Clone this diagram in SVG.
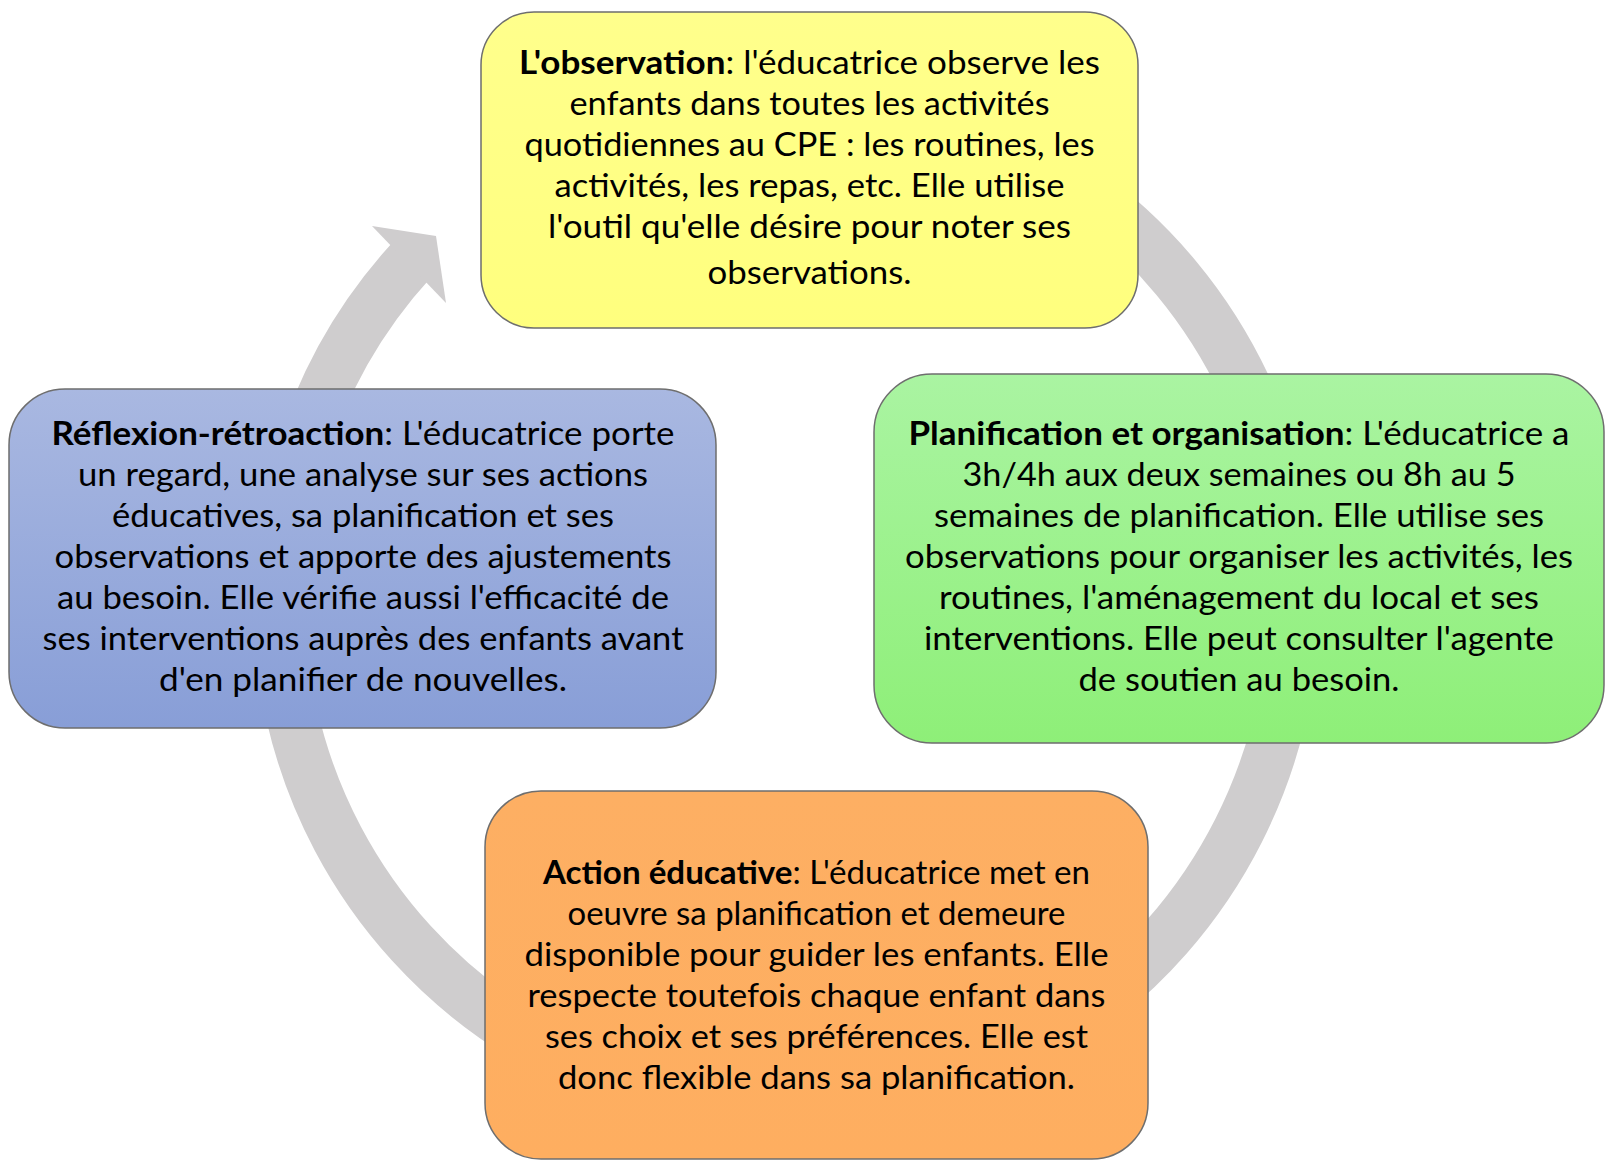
<svg xmlns="http://www.w3.org/2000/svg" width="1606" height="1160" viewBox="0 0 1606 1160">
<defs>
<linearGradient id="gY" x1="0" y1="0" x2="0" y2="1"><stop offset="0" stop-color="#FFFF8C"/><stop offset="1" stop-color="#FFFF7E"/></linearGradient>
<linearGradient id="gG" x1="0" y1="0" x2="0" y2="1"><stop offset="0" stop-color="#AAF4A2"/><stop offset="1" stop-color="#8EEF78"/></linearGradient>
<linearGradient id="gB" x1="0" y1="0" x2="0" y2="1"><stop offset="0" stop-color="#A9B8E1"/><stop offset="1" stop-color="#889ED7"/></linearGradient>
<linearGradient id="gO" x1="0" y1="0" x2="0" y2="1"><stop offset="0" stop-color="#FDAF63"/><stop offset="1" stop-color="#FEAE60"/></linearGradient>
<style>
.box{stroke:#6e6e6e;stroke-width:1.5}
.t{font-family:Lato,"Liberation Sans",sans-serif;font-size:33px;fill:#000;text-anchor:middle}
.b{font-weight:bold}
.ring{fill:none;stroke:#CFCDCE;stroke-width:52}
</style>
</defs>
<g id="connectors">
<path class="ring" d="M612.4,125.5 A507,507 0 1 1 412.4,259.2"/>
<polygon points="372,226 436,236 446,303" fill="#CFCDCE"/>
</g>
<g id="node-observation">
<rect class="box" x="481" y="12" width="657" height="316" rx="53" fill="url(#gY)"/>
<text class="t" x="809.5" y="74" textLength="581" lengthAdjust="spacingAndGlyphs"><tspan class="b">L'observation</tspan>: l'éducatrice observe les</text>
<text class="t" x="809.5" y="115" textLength="480" lengthAdjust="spacingAndGlyphs">enfants dans toutes les activités</text>
<text class="t" x="809.5" y="156" textLength="570" lengthAdjust="spacingAndGlyphs">quotidiennes au CPE : les routines, les</text>
<text class="t" x="809.5" y="197" textLength="510" lengthAdjust="spacingAndGlyphs">activités, les repas, etc. Elle utilise</text>
<text class="t" x="809.5" y="238" textLength="523" lengthAdjust="spacingAndGlyphs">l'outil qu'elle désire pour noter ses</text>
<text class="t" x="809.5" y="284" textLength="204" lengthAdjust="spacingAndGlyphs">observations.</text>
</g>
<g id="node-planification">
<rect class="box" x="874" y="374" width="730" height="369" rx="58" fill="url(#gG)"/>
<text class="t" x="1239" y="445" textLength="661" lengthAdjust="spacingAndGlyphs"><tspan class="b">Planification et organisation</tspan>: L'éducatrice a</text>
<text class="t" x="1239" y="486" textLength="553" lengthAdjust="spacingAndGlyphs">3h/4h aux deux semaines ou 8h au 5</text>
<text class="t" x="1239" y="527" textLength="610" lengthAdjust="spacingAndGlyphs">semaines de planification. Elle utilise ses</text>
<text class="t" x="1239" y="568" textLength="668" lengthAdjust="spacingAndGlyphs">observations pour organiser les activités, les</text>
<text class="t" x="1239" y="609" textLength="600" lengthAdjust="spacingAndGlyphs">routines, l'aménagement du local et ses</text>
<text class="t" x="1239" y="650" textLength="630" lengthAdjust="spacingAndGlyphs">interventions. Elle peut consulter l'agente</text>
<text class="t" x="1239" y="691" textLength="321" lengthAdjust="spacingAndGlyphs">de soutien au besoin.</text>
</g>
<g id="node-reflexion">
<rect class="box" x="9" y="389" width="707" height="339" rx="56" fill="url(#gB)"/>
<text class="t" x="363" y="445" textLength="623" lengthAdjust="spacingAndGlyphs"><tspan class="b">Réflexion-rétroaction</tspan>: L'éducatrice porte</text>
<text class="t" x="363" y="486" textLength="570" lengthAdjust="spacingAndGlyphs">un regard, une analyse sur ses actions</text>
<text class="t" x="363" y="527" textLength="502" lengthAdjust="spacingAndGlyphs">éducatives, sa planification et ses</text>
<text class="t" x="363" y="568" textLength="617" lengthAdjust="spacingAndGlyphs">observations et apporte des ajustements</text>
<text class="t" x="363" y="609" textLength="612" lengthAdjust="spacingAndGlyphs">au besoin. Elle vérifie aussi l'efficacité de</text>
<text class="t" x="363" y="650" textLength="641" lengthAdjust="spacingAndGlyphs">ses interventions auprès des enfants avant</text>
<text class="t" x="363" y="691" textLength="408" lengthAdjust="spacingAndGlyphs">d'en planifier de nouvelles.</text>
</g>
<g id="node-action">
<rect class="box" x="485" y="791" width="663" height="368" rx="56" fill="url(#gO)"/>
<text class="t" x="816.5" y="884" textLength="547" lengthAdjust="spacingAndGlyphs"><tspan class="b">Action éducative</tspan>: L'éducatrice met en</text>
<text class="t" x="816.5" y="925" textLength="498" lengthAdjust="spacingAndGlyphs">oeuvre sa planification et demeure</text>
<text class="t" x="816.5" y="966" textLength="584" lengthAdjust="spacingAndGlyphs">disponible pour guider les enfants. Elle</text>
<text class="t" x="816.5" y="1007" textLength="578" lengthAdjust="spacingAndGlyphs">respecte toutefois chaque enfant dans</text>
<text class="t" x="816.5" y="1048" textLength="543" lengthAdjust="spacingAndGlyphs">ses choix et ses préférences. Elle est</text>
<text class="t" x="816.5" y="1089" textLength="517" lengthAdjust="spacingAndGlyphs">donc flexible dans sa planification.</text>
</g>
</svg>
